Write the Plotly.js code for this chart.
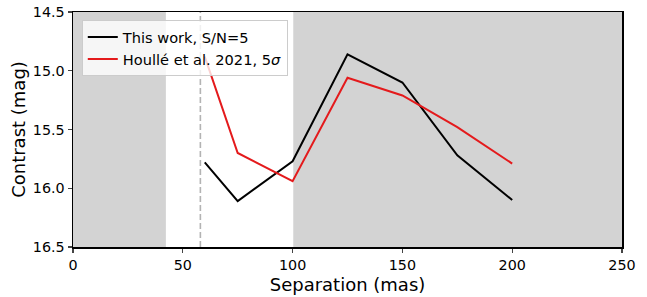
<!DOCTYPE html>
<html><head><meta charset="utf-8">
<script src="https://cdn.plot.ly/plotly-3.0.1.min.js"></script>
<style>html,body{margin:0;padding:0;background:#fff}</style>
</head><body>
<div id="chart" style="width:647px;height:297px"></div>
<script>
const separation = [60, 75, 100, 125, 150, 175, 200];
const thisWork = [15.78, 16.11, 15.77, 14.86, 15.10, 15.72, 16.10];
const houlle = [14.88, 15.70, 15.94, 15.06, 15.21, 15.48, 15.79];
const grayRegions = [[0, 42.3], [100.3, 250]];
const dashedX = 58;
const xTicks = [0, 50, 100, 150, 200, 250];
const yTicks = [14.5, 15.0, 15.5, 16.0, 16.5];

const shapes = grayRegions.map(r => ({
  type: 'rect', xref: 'x', yref: 'paper', x0: r[0], x1: r[1], y0: 0, y1: 1,
  fillcolor: '#d3d3d3', line: {width: 0}, layer: 'below'
}));
shapes.push({type: 'line', xref: 'x', yref: 'paper', x0: dashedX, x1: dashedX, y0: 0, y1: 1,
  line: {color: '#b3b3b3', width: 1.6, dash: '6px,3px'}, layer: 'below'});

const traces = [
  {x: separation, y: thisWork, mode: 'lines', name: 'This work, S/N=5', line: {color: '#000000', width: 2}},
  {x: separation, y: houlle, mode: 'lines', name: 'Houllé et al. 2021, 5<i>σ</i>', line: {color: '#e41a1c', width: 2}}
];
const font = {family: 'DejaVu Sans', size: 14, color: '#000'};
const layout = {
  width: 647, height: 297,
  margin: {l: 73, r: 25, t: 12, b: 50},
  paper_bgcolor: '#fff', plot_bgcolor: '#fff',
  font: font,
  showlegend: true,
  legend: {x: 0.016, y: 0.966, xanchor: 'left', yanchor: 'top', bgcolor: 'rgba(255,255,255,0.8)',
    bordercolor: '#cccccc', borderwidth: 1, font: {family: 'DejaVu Sans', size: 14.6, color: '#000'},
    tracegroupgap: 0},
  xaxis: {range: [0, 250], tickvals: xTicks, ticktext: xTicks.map(String), ticks: 'outside', ticklen: 4, tickwidth: 1.2,
    tickfont: {size: 14.3},
    showline: true, linecolor: '#000', linewidth: 1.5, mirror: true, showgrid: false, zeroline: false,
    title: {text: 'Separation (mas)', font: {family: 'DejaVu Sans', size: 18}, standoff: 6}},
  yaxis: {range: [16.5, 14.5], tickvals: yTicks, ticktext: yTicks.map(v => v.toFixed(1)), ticks: 'outside', ticklen: 4, tickwidth: 1.2,
    tickfont: {size: 14.3},
    showline: true, linecolor: '#000', linewidth: 1.5, mirror: true, showgrid: false, zeroline: false,
    title: {text: 'Contrast (mag)', font: {family: 'DejaVu Sans', size: 18}, standoff: 2}},
  shapes: shapes
};
Plotly.newPlot('chart', traces, layout, {displayModeBar: false, staticPlot: true});
</script>
</body></html>
